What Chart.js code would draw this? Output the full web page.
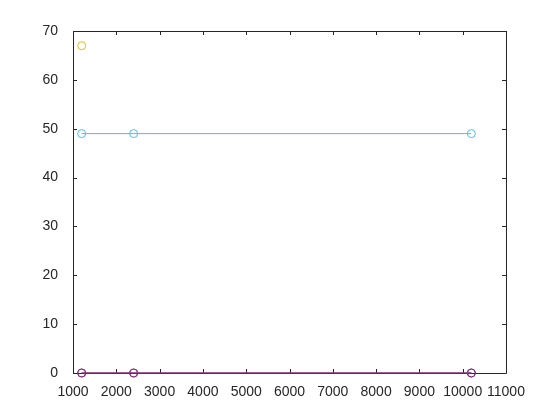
<!DOCTYPE html>
<html>
<head>
<meta charset="utf-8">
<script src="https://cdn.jsdelivr.net/npm/chart.js@4"></script>
<style>
  html, body { margin: 0; padding: 0; background: #fff; }
  #wrap { width: 560px; height: 420px; }
</style>
</head>
<body>
<div id="wrap"><canvas id="myChart" width="560" height="420"></canvas></div>
<script>
// x positions of the samples
var xValues = [1200, 2400, 10200];

// series values (null = no point)
var yellowSeries = [67, null, null];
var cyanSeries = [49, 49, 49];
var purpleSeries = [0, 0, 0];
var redSeries = [0, 0, 0];

var xTicks = [1000, 2000, 3000, 4000, 5000, 6000, 7000, 8000, 9000, 10000, 11000];
var yTicks = [0, 10, 20, 30, 40, 50, 60, 70];

function toPoints(ys) {
    var pts = [];
    for (let i = 0; i < xValues.length; i++) {
        if (ys[i] !== null) pts.push({ x: xValues[i], y: ys[i] });
    }
    return pts;
}

function series(ys, color) {
    return {
        data: toPoints(ys),
        showLine: true,
        clip: false,
        borderColor: color,
        backgroundColor: 'rgba(0,0,0,0)',
        borderWidth: 1,
        pointRadius: 4,
        pointBorderWidth: 1,
        pointBackgroundColor: 'rgba(0,0,0,0)',
        pointBorderColor: color
    };
}

/* Box and inward ticks like the original plot */
const boxTicks = {
    id: 'boxTicks',
    beforeDatasetsDraw(chart) {
        var ctx = chart.ctx, a = chart.chartArea;
        var xs = chart.scales.x, ys = chart.scales.y;
        ctx.save();
        ctx.strokeStyle = '#262626';
        ctx.lineWidth = 1;
        ctx.beginPath();
        ctx.rect(Math.round(a.left) + 0.5, Math.round(a.top) + 0.5,
                 Math.round(a.right - a.left), Math.round(a.bottom - a.top));
        xTicks.forEach(function (v) {
            var px = Math.round(xs.getPixelForValue(v)) + 0.5;
            ctx.moveTo(px, a.bottom); ctx.lineTo(px, a.bottom - 4);
            ctx.moveTo(px, a.top); ctx.lineTo(px, a.top + 4);
        });
        yTicks.forEach(function (v) {
            var py = Math.round(ys.getPixelForValue(v)) + 0.5;
            ctx.moveTo(a.left, py); ctx.lineTo(a.left + 4, py);
            ctx.moveTo(a.right, py); ctx.lineTo(a.right - 4, py);
        });
        ctx.stroke();
        ctx.restore();
    }
};

const config = {
    type: 'scatter',
    data: {
        datasets: [
            series(yellowSeries, '#EDB120'),
            series(cyanSeries, '#4DBEEE'),
            series(purpleSeries, '#7E2F8E'),
            series(redSeries, '#8C1840')
        ]
    },
    options: {
        responsive: false,
        animation: false,
        layout: { padding: { top: 31, right: 54, left: 0, bottom: 0 } },
        plugins: { legend: { display: false }, tooltip: { enabled: false } },
        scales: {
            x: {
                type: 'linear',
                min: 1000, max: 11000,
                afterBuildTicks: function (s) { s.ticks = xTicks.map(function (v) { return { value: v }; }); },
                afterFit: function (s) { s.height = 47; },
                grid: { display: false },
                border: { display: false },
                ticks: {
                    color: '#262626', font: { family: 'Liberation Sans', size: 14 }, padding: 3,
                    maxRotation: 0, autoSkip: false,
                    callback: function (v) { return String(v); }
                }
            },
            y: {
                type: 'linear',
                min: 0, max: 70,
                afterBuildTicks: function (s) { s.ticks = yTicks.map(function (v) { return { value: v }; }); },
                afterFit: function (s) { s.width = 73; },
                grid: { display: false },
                border: { display: false },
                ticks: {
                    color: '#262626', font: { family: 'Liberation Sans', size: 14 }, padding: 7,
                    callback: function (v) { return String(v); }
                }
            }
        }
    },
    plugins: [boxTicks]
};

const myChart = new Chart(document.getElementById('myChart'), config);
</script>
</body>
</html>
